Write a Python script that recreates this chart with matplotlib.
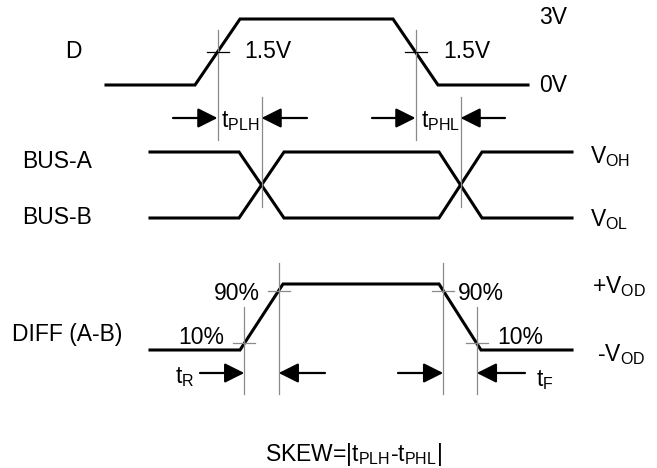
import numpy as np
import matplotlib
matplotlib.use("Agg")
import matplotlib.pyplot as plt

plt.rcParams['font.family'] = ['Liberation Sans', 'DejaVu Sans']
plt.rcParams['mathtext.default'] = 'regular'

# waveforms: time (px along the diagram) and logic level
t_d = [106, 195, 240, 393, 438, 528]
lvl_d = [0, 0, 1, 1, 0, 0]
t_bus = [150, 239, 284, 439, 482, 572]
lvl_a = [1, 1, 0, 0, 1, 1]
lvl_b = [0, 0, 1, 1, 0, 0]
t_diff = [150, 240, 283, 439, 481, 572]
lvl_diff = [0, 0, 1, 1, 0, 0]

# rows: (low y, high y)
row_d = (85, 19)
row_bus = (218, 152)
row_diff = (350, 284)

fs = 16.5
black = '#000000'
grey = '#8a8a8a'

fig = plt.figure(figsize=(6.57, 4.68), dpi=100)
ax = fig.add_axes([0, 0, 1, 1])
ax.set_xlim(0, 657)
ax.set_ylim(468, 0)
ax.axis('off')


def yof(row, lvl):
    lo, hi = row
    return lo + (hi - lo) * np.asarray(lvl, dtype=float)


def edge_time(t, lvl, i, frac):
    # time where edge i -> i+1 reaches fraction frac of the swing
    a, b = lvl[i], lvl[i + 1]
    p = (frac - a) / (b - a)
    return t[i] + p * (t[i + 1] - t[i])


def arrow(x_tail, x_tip, y):
    ax.annotate('', xy=(x_tip, y), xytext=(x_tail, y),
                arrowprops=dict(arrowstyle='-|>,head_length=0.6,head_width=0.3',
                                mutation_scale=20, lw=1.6, color=black,
                                shrinkA=0, shrinkB=0))


# signals
ax.plot(t_d, yof(row_d, lvl_d), color=black, lw=2.2, solid_joinstyle='miter')
ax.plot(t_bus, yof(row_bus, lvl_a), color=black, lw=2.2, solid_joinstyle='miter')
ax.plot(t_bus, yof(row_bus, lvl_b), color=black, lw=2.2, solid_joinstyle='miter')
ax.plot(t_diff, yof(row_diff, lvl_diff), color=black, lw=2.2, solid_joinstyle='miter')

# 1.5V crossings of D and BUS crossings
d_rise = edge_time(t_d, lvl_d, 1, 0.5)
d_fall = edge_time(t_d, lvl_d, 3, 0.5)
b_rise = edge_time(t_bus, lvl_b, 1, 0.5)
b_fall = edge_time(t_bus, lvl_b, 3, 0.5)
y_half = yof(row_d, 0.5)

for x in (d_rise, d_fall):
    ax.plot([x, x], [30, 140], color=grey, lw=0.9)
    ax.plot([x - 11, x + 11], [y_half, y_half], color=black, lw=0.9)
for x in (b_rise, b_fall):
    ax.plot([x, x], [97, 207], color=grey, lw=0.9)

# 10% / 90% points of DIFF
r10 = edge_time(t_diff, lvl_diff, 1, 0.1)
r90 = edge_time(t_diff, lvl_diff, 1, 0.9)
f90 = edge_time(t_diff, lvl_diff, 3, 0.9)
f10 = edge_time(t_diff, lvl_diff, 3, 0.1)
y10 = yof(row_diff, 0.1)
y90 = yof(row_diff, 0.9)
for x, y, top in ((r10, y10, 307), (r90, y90, 263), (f90, y90, 263), (f10, y10, 307)):
    ax.plot([x, x], [top, 394], color=grey, lw=0.9)
    ax.plot([x - 11, x + 11], [y, y], color=grey, lw=0.9)

# timing arrows
arrow(173, d_rise, 118)
arrow(307, b_rise, 118)
arrow(372, d_fall, 118)
arrow(505, b_fall, 118)
arrow(200, r10, 373)
arrow(325, r90, 373)
arrow(398, f90, 373)
arrow(525, f10, 373)

# labels
ax.text(65, 51, 'D', fontsize=fs, va='center', ha='left')
ax.text(244, 52, '1.5V', fontsize=fs, va='center', ha='left')
ax.text(443, 52, '1.5V', fontsize=fs, va='center', ha='left')
ax.text(539, 17, '3V', fontsize=fs, va='center', ha='left')
ax.text(539, 85, '0V', fontsize=fs, va='center', ha='left')
ax.text(221, 121, '$t_{PLH}$', fontsize=fs, va='center', ha='left')
ax.text(421, 121, '$t_{PHL}$', fontsize=fs, va='center', ha='left')

ax.text(22, 161, 'BUS-A', fontsize=fs, va='center', ha='left')
ax.text(22, 217, 'BUS-B', fontsize=fs, va='center', ha='left')
ax.text(590, 157, '$V_{OH}$', fontsize=fs, va='center', ha='left')
ax.text(590, 220, '$V_{OL}$', fontsize=fs, va='center', ha='left')

ax.text(122, 335, 'DIFF (A-B)', fontsize=fs, va='center', ha='right')
ax.text(260, 294, '90%', fontsize=fs, va='center', ha='right')
ax.text(224, 338, '10%', fontsize=fs, va='center', ha='right')
ax.text(458, 294, '90%', fontsize=fs, va='center', ha='left')
ax.text(497, 338, '10%', fontsize=fs, va='center', ha='left')
ax.text(592, 287, '+$V_{OD}$', fontsize=fs, va='center', ha='left')
ax.text(597, 355, '-$V_{OD}$', fontsize=fs, va='center', ha='left')
ax.text(175, 377, '$t_R$', fontsize=fs, va='center', ha='left')
ax.text(536, 380, '$t_F$', fontsize=fs, va='center', ha='left')

ax.text(353, 454, 'SKEW=|$t_{PLH}$-$t_{PHL}$|', fontsize=fs, va='center', ha='center')

fig.savefig('out.png', dpi=100)
